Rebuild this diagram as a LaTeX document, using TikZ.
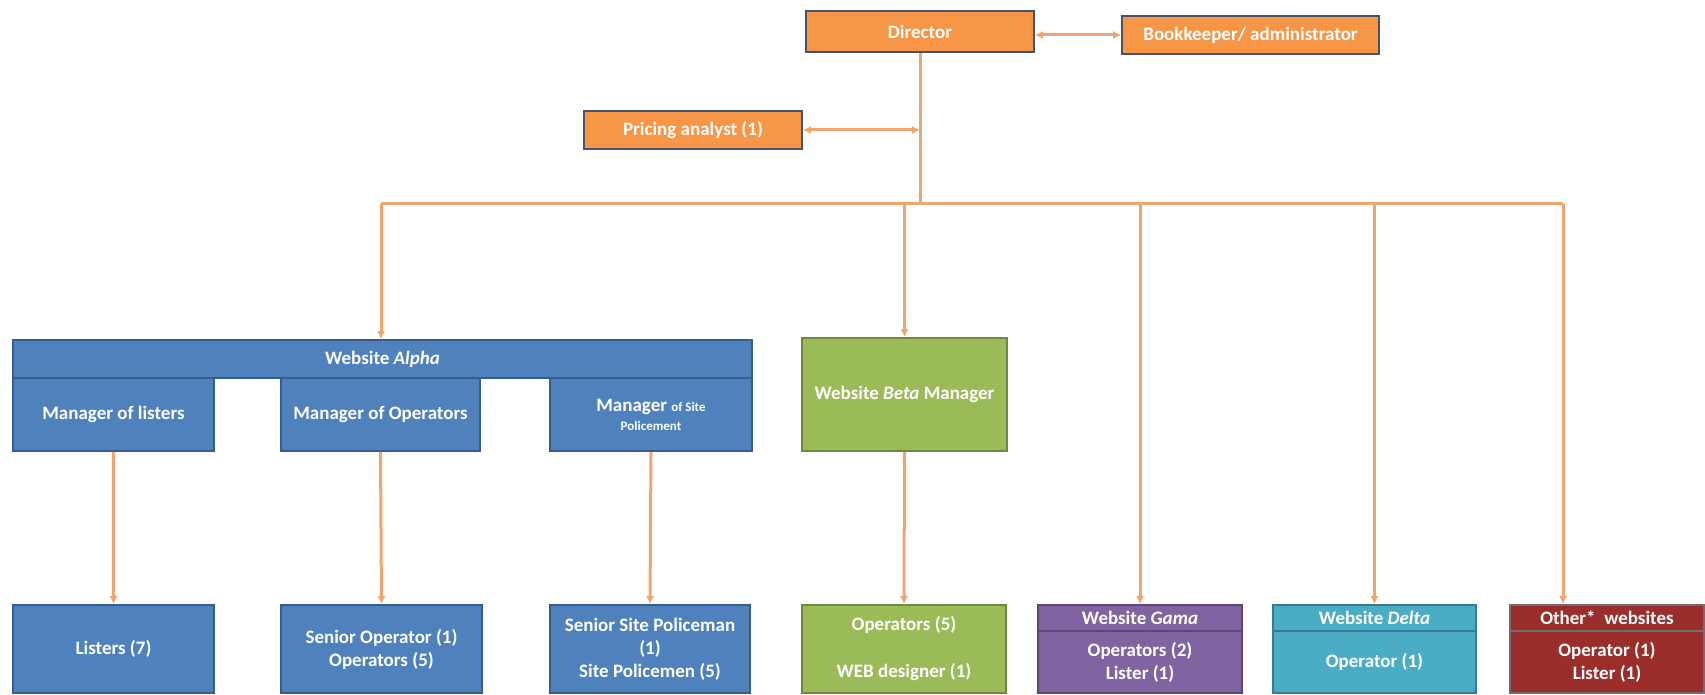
\documentclass[tikz,border=0pt]{standalone}
\usepackage{fontspec}
\setmainfont{Carlito}
\usetikzlibrary{arrows.meta}

\definecolor{orgfill}{HTML}{F79646}
\definecolor{orgline}{HTML}{44546A}
\definecolor{bluefill}{HTML}{4F81BD}
\definecolor{blueline}{HTML}{385D8A}
\definecolor{grnfill}{HTML}{9BBB59}
\definecolor{grnline}{HTML}{71893F}
\definecolor{purfill}{HTML}{8064A2}
\definecolor{purline}{HTML}{5C4776}
\definecolor{tealfill}{HTML}{4BACC6}
\definecolor{tealline}{HTML}{357D91}
\definecolor{redfill}{HTML}{9B2D2A}
\definecolor{redline}{HTML}{6E6E6E}
\definecolor{linkorg}{HTML}{F0A56E}

\begin{document}
\begin{tikzpicture}[x=0.5pt,y=-0.5pt,
  block/.style={rectangle,line width=0.8pt,text=white,align=center,inner sep=1pt,
    font=\fontsize{9.5}{11.5}\selectfont\bfseries},
  orangebox/.style={block,fill=orgfill,draw=orgline},
  bluebox/.style={block,fill=bluefill,draw=blueline},
  greenbox/.style={block,fill=grnfill,draw=grnline},
  purplebox/.style={block,fill=purfill,draw=purline},
  tealbox/.style={block,fill=tealfill,draw=tealline},
  redbox/.style={block,fill=redfill,draw=redline},
  wire/.style={draw=linkorg,line width=1.5pt},
  link/.style={wire,{Latex[length=4pt,width=4pt]}-{Latex[length=4pt,width=4pt]}},
  drop/.style={wire,-{Latex[length=4pt,width=4pt]}}]
\useasboundingbox (0,0) rectangle (1705,695);
% top level
\node at ( 920,  31.5) (Dir)  [orangebox,minimum width=114pt,minimum height=20.5pt] {Director};
\node at (1250.5, 35)  (Book) [orangebox,minimum width=128.5pt,minimum height=19pt] {Bookkeeper/ administrator};
\node at ( 693, 130)   (Price)[orangebox,minimum width=109pt,minimum height=19pt] {Pricing analyst (1)};
% second level
\node at ( 382.5, 359)   (Alpha)   [bluebox,minimum width=369.5pt,minimum height=19pt] {Website \textit{Alpha}};
\node at ( 113.5, 414.5) (MgrList) [bluebox,minimum width=100.5pt,minimum height=36.5pt] {Manager of listers};
\node at ( 380.5, 414.5) (MgrOps)  [bluebox,minimum width=99.5pt,minimum height=36.5pt] {Manager of Operators};
\node at ( 651,   414.5) (MgrSite) [bluebox,minimum width=101pt,minimum height=36.5pt]
  {Manager {\fontsize{6.5}{8}\selectfont of Site}\\[-2pt]{\fontsize{6.5}{8}\selectfont Policement}};
\node at ( 904.5, 394.5) (Beta)    [greenbox,minimum width=102.5pt,minimum height=56.5pt] {Website \textit{Beta} Manager};
% third level
\node at ( 113.5, 649) (Listers)  [bluebox,minimum width=100.5pt,minimum height=44pt] {Listers (7)};
\node at ( 381.5, 649) (SenOps)   [bluebox,minimum width=100.5pt,minimum height=44pt] {Senior Operator (1)\\Operators (5)};
\node at ( 650,   649) (SenSite)  [bluebox,minimum width=100pt,minimum height=44pt] {Senior Site Policeman\\(1)\\Site Policemen (5)};
\node at ( 904,   649) (BetaOps)  [greenbox,minimum width=102pt,minimum height=44pt] {Operators (5)\\[12pt]WEB designer (1)};
\node at (1140,   618) (GamaHead) [purplebox,minimum width=102pt,minimum height=13pt] {Website \textit{Gama}};
\node at (1140,   662) (GamaBody) [purplebox,minimum width=102pt,minimum height=31pt] {Operators (2)\\Lister (1)};
\node at (1374.5, 618) (DeltaHead)[tealbox,minimum width=101.5pt,minimum height=13pt] {Website \textit{Delta}};
\node at (1374.5, 662) (DeltaBody)[tealbox,minimum width=101.5pt,minimum height=31pt] {Operator (1)};
\node at (1607,   618) (OthHead)  [redbox,minimum width=97pt,minimum height=13pt] {Other*\ \ websites};
\node at (1607,   662) (OthBody)  [redbox,minimum width=97pt,minimum height=31pt] {Operator (1)\\Lister (1)};
% bus
\coordinate (busT) at (Dir.south |- 0,204);
\coordinate (busL) at (381,204);
\coordinate (busR) at (1563,204);
\coordinate (trunkP) at (busT |- Price.east);
\draw [link] (Book.west -| Dir.east) -- (Book.west);
\draw [link] (Price.east) -- (trunkP);
\draw [wire] (Dir.south) -- (busT);
\draw [wire] (busL) -- (busR);
\draw [drop] (busL) -- (busL |- Alpha.north);
\draw [drop] (Beta.north |- busT) -- (Beta.north);
\draw [drop] (GamaHead.north |- busT) -- (GamaHead.north);
\draw [drop] (DeltaHead.north |- busT) -- (DeltaHead.north);
\draw [drop] (busR) -- (busR |- OthHead.north);
\draw [drop] (MgrList.south) -- (Listers.north);
\draw [drop] (MgrOps.south) -- (SenOps.north);
\draw [drop] (MgrSite.south) -- (SenSite.north);
\draw [drop] (Beta.south) -- (BetaOps.north);
\end{tikzpicture}
\end{document}
